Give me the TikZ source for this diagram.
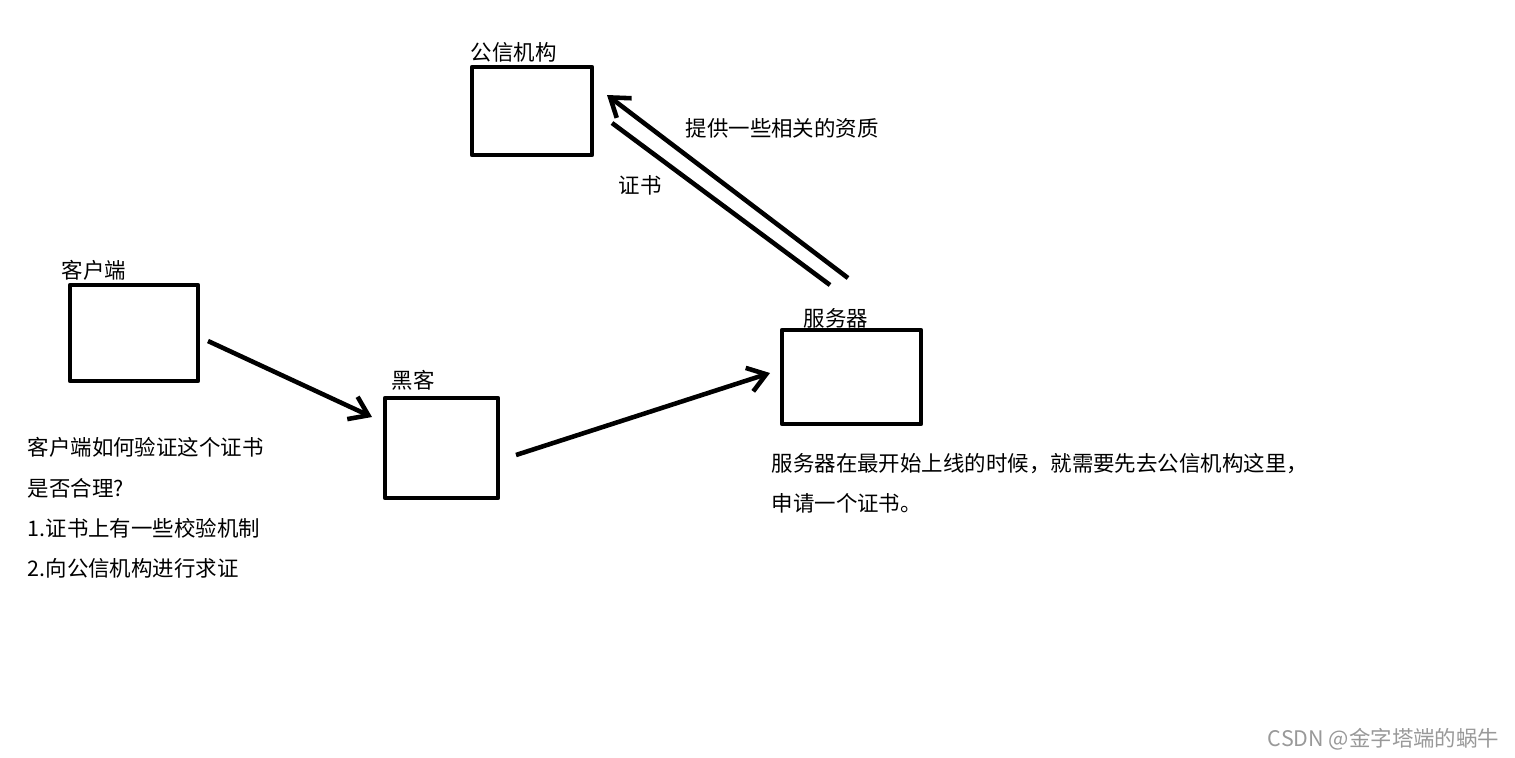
\documentclass[tikz,border=0pt]{standalone}
\usepackage{fontspec}
\setmainfont{Noto Sans CJK SC}
\usetikzlibrary{arrows.meta}
\tikzset{l/.style={font=\fontsize{6.1}{6}\selectfont,inner sep=0pt,anchor=west}}
\tikzset{boxx/.style={draw,line width=1.3pt,inner sep=0pt}}
\tikzset{pfeil/.style={line width=1.3pt,-{Straight Barb[length=5pt,width=7pt]}}}

\begin{document}
\begin{tikzpicture}[x=0.01cm,y=-0.01cm,line join=round]
  \useasboundingbox (0,0) rectangle (1515,757);
  % Kasten
  \draw[boxx] (472,67) rectangle (592,155);
  \draw[boxx] (70,285) rectangle (198,381);
  \draw[boxx] (385,398) rectangle (498,498);
  \draw[boxx] (782,330) rectangle (921,424);
  % Beschriftung
  \node[l] (gx) at (470,52) {公信机构};
  \node[l] (kh) at (61,270) {客户端};
  \node[l] (hk) at (391,380) {黑客};
  \node[l] (fw) at (803,318) {服务器};
  \node[l] (zz) at (685,128) {提供一些相关的资质};
  \node[l] (zs) at (618,185) {证书};
  \node[l,align=left,font=\fontsize{6.1}{11.4}\selectfont,anchor=north west] (ky) at (27,437)
    {客户端如何验证这个证书\\是否合理?\\1.证书上有一些校验机制\\2.向公信机构进行求证};
  \node[l,align=left,font=\fontsize{6.1}{11.4}\selectfont,anchor=north west] (fy) at (771,453)
    {服务器在最开始上线的时候，就需要先去公信机构这里，\\申请一个证书。};
  \node[l,anchor=east,text=gray!80] (wm) at (1500,739) {CSDN @金字塔端的蜗牛};
  % Pfeile
  \coordinate (a1) at (208,341); \coordinate (a2) at (372,417);
  \coordinate (b1) at (516,455); \coordinate (b2) at (770,373);
  \coordinate (c1) at (848,278); \coordinate (c2) at (607,95);
  \coordinate (d1) at (612,123); \coordinate (d2) at (830,285);
  \draw[pfeil] (a1) -- (a2);
  \draw[pfeil] (b1) -- (b2);
  \draw[pfeil] (c1) -- (c2);
  \draw[line width=1.3pt] (d1) -- (d2);
\end{tikzpicture}
\end{document}
